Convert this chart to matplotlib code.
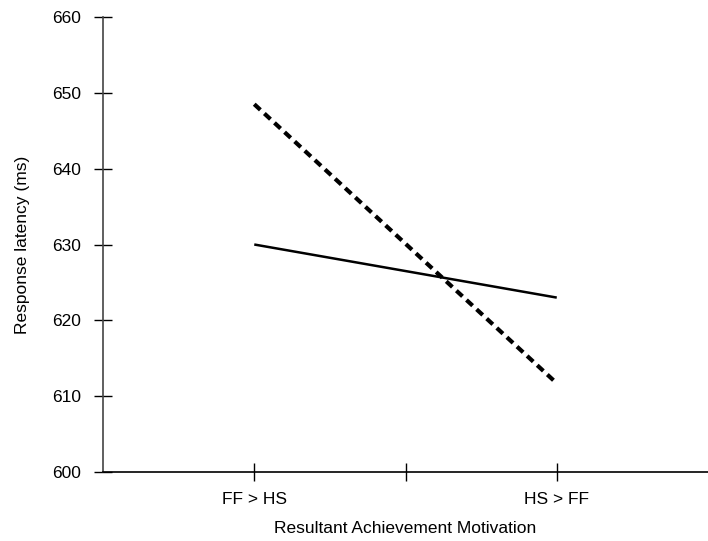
import matplotlib
matplotlib.use('Agg')
import matplotlib.pyplot as plt

plt.rcParams['font.family'] = ['Liberation Sans', 'DejaVu Sans']

# data
groups = ['FF > HS', 'HS > FF']
x_pos = [1, 3]
solid_vals = [630, 623]
dashed_vals = [648.5, 611.7]
yticks = [600, 610, 620, 630, 640, 650, 660]

fig = plt.figure(figsize=(7.08, 5.41), dpi=100)
ax = fig.add_axes([0.1455, 0.1275, 0.8545, 0.8411])

ax.plot(x_pos, solid_vals, color='black', lw=1.8, solid_capstyle='butt')
ax.plot(x_pos, dashed_vals, color='black', lw=3, dashes=(2.0, 1.3))

ax.set_xlim(0, 4)
ax.set_ylim(600, 660)
ax.set_yticks(yticks)
ax.set_xticks([1, 2, 3])
ax.set_xticklabels([groups[0], '', groups[1]])

for s in ['top', 'right']:
    ax.spines[s].set_visible(False)
ax.spines['left'].set_color('#444444')
ax.spines['left'].set_linewidth(1.2)
ax.spines['bottom'].set_linewidth(1.2)

ax.tick_params(direction='inout', length=13, width=1, labelsize=12.5, colors='black')
ax.tick_params(axis='x', pad=8)
ax.tick_params(axis='y', pad=9)

ax.set_xlabel('Resultant Achievement Motivation', fontsize=12.5, labelpad=10)
ax.set_ylabel('Response latency (ms)', fontsize=12.5, labelpad=16)

fig.savefig('out.png', dpi=100)
